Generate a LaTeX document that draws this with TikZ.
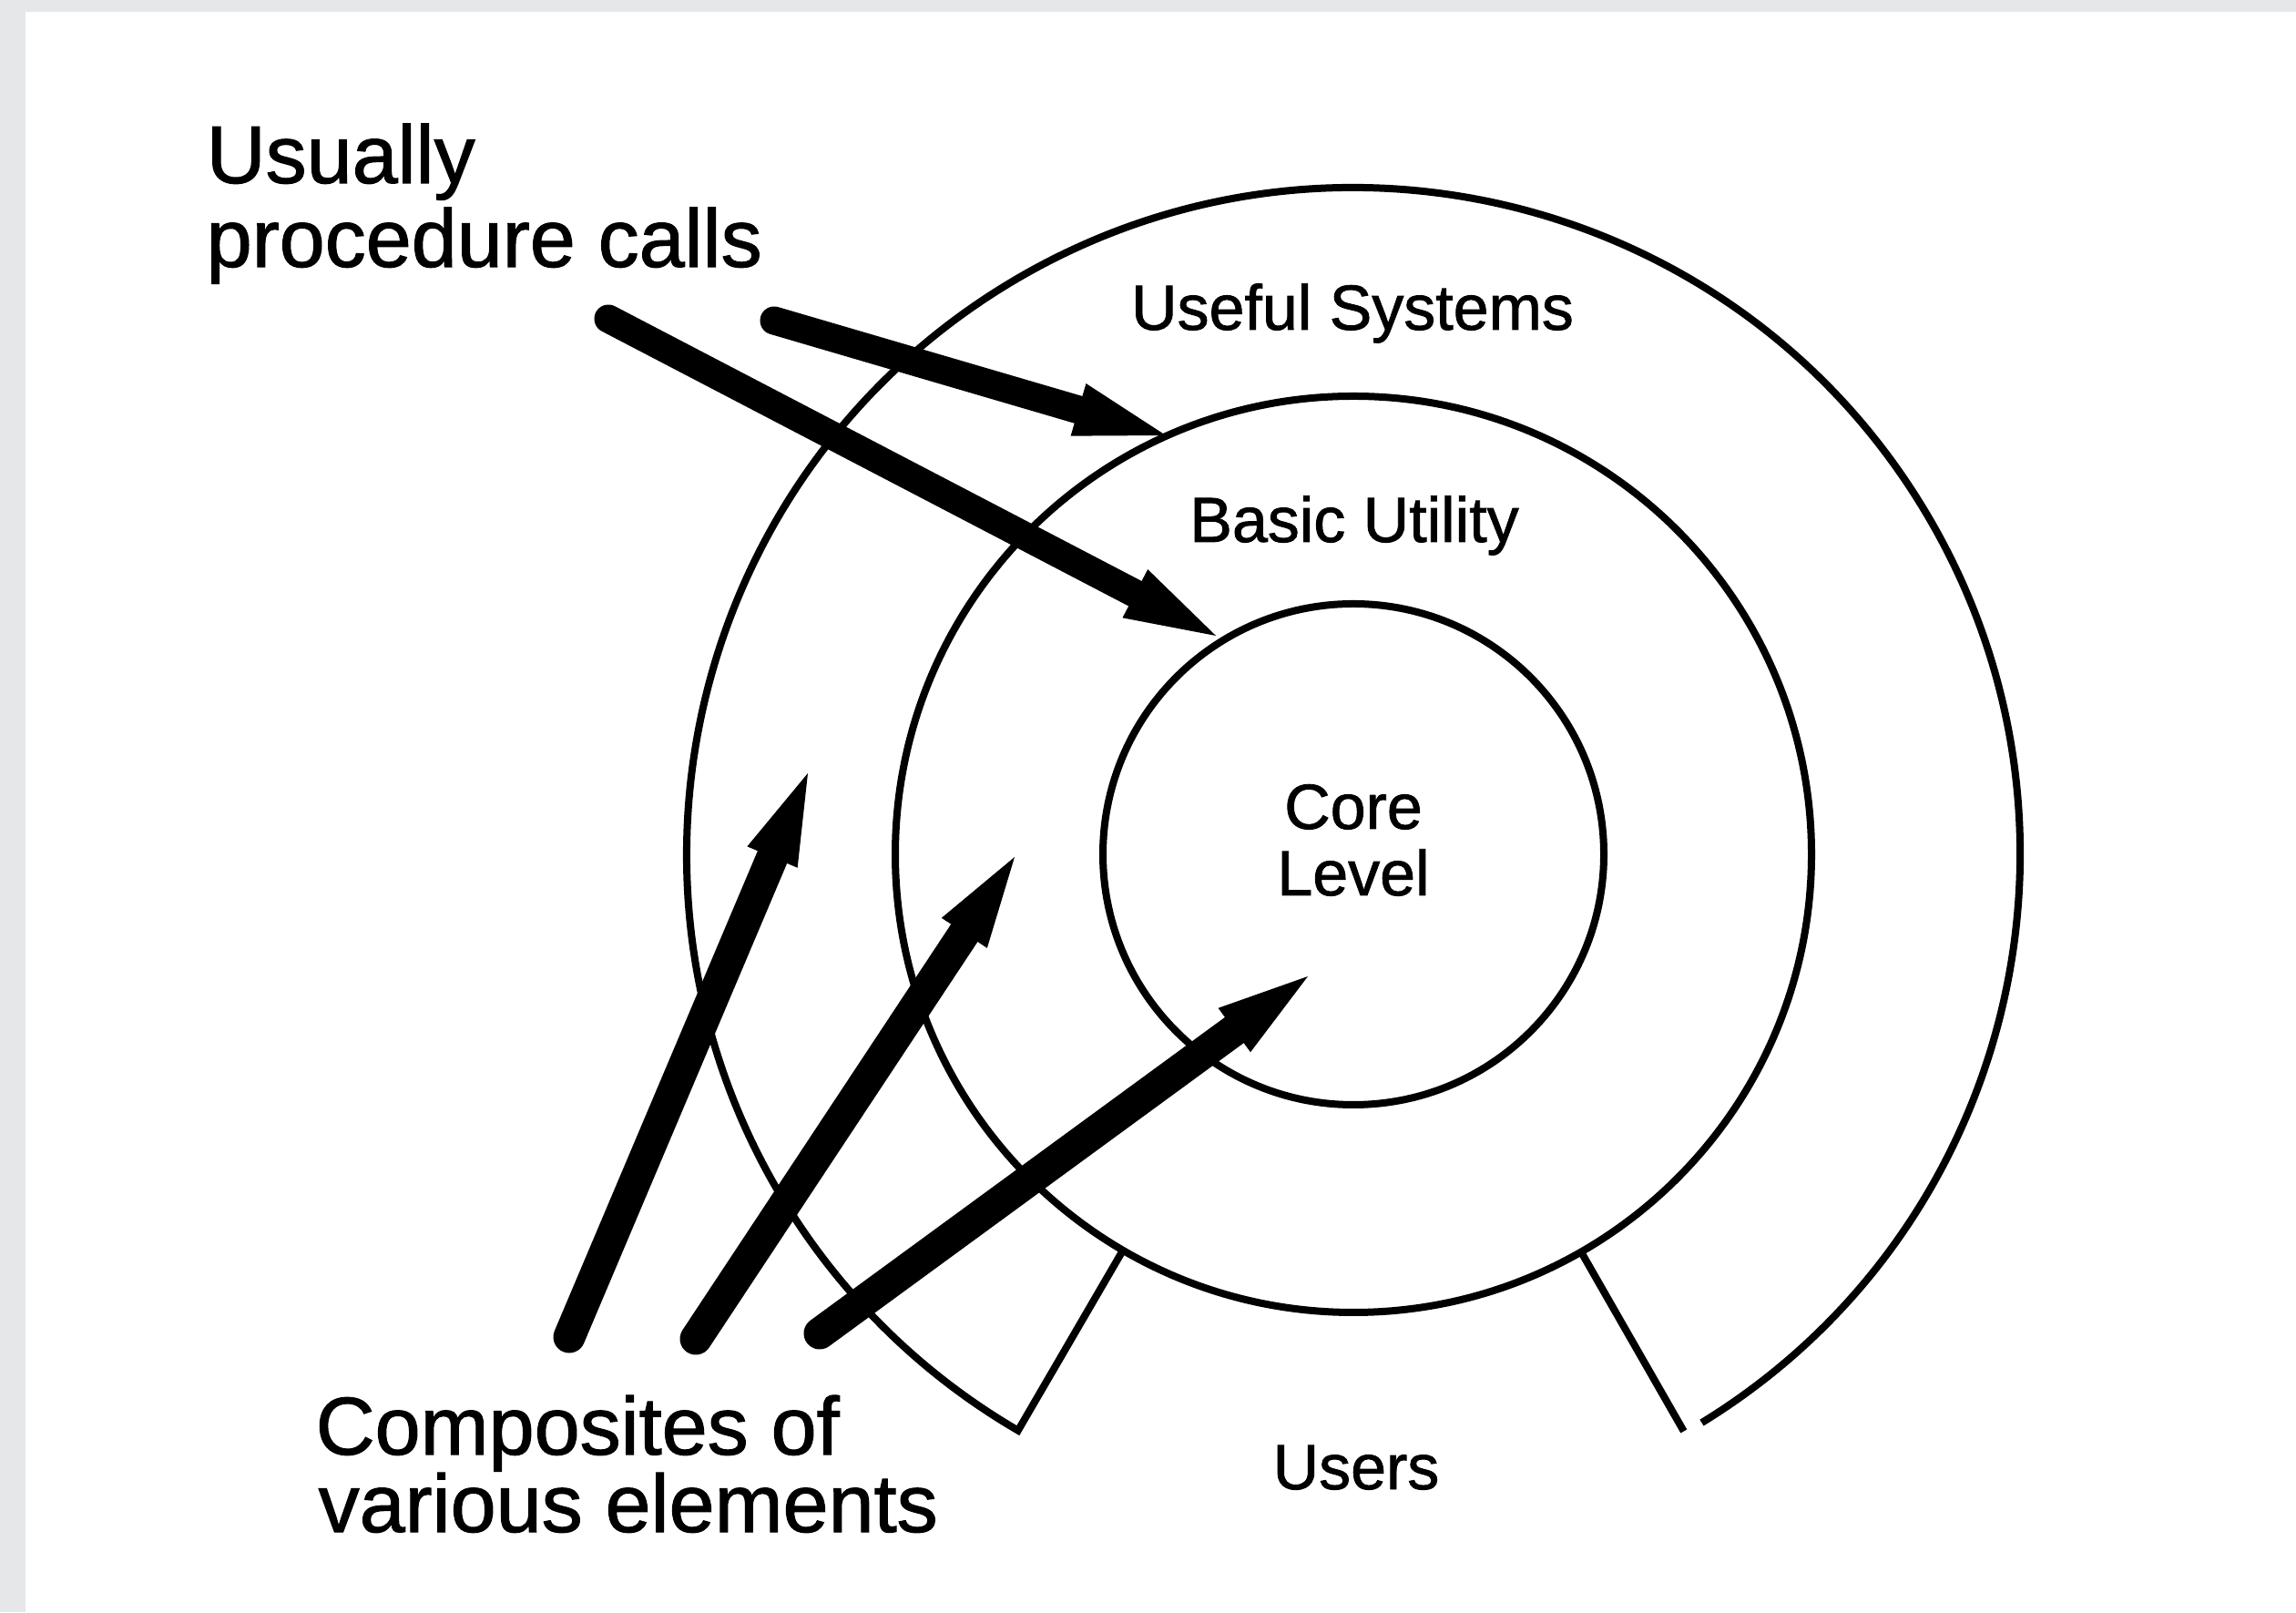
\documentclass[tikz,border=0pt]{standalone}
\usepackage{fontspec}
\setmainfont{Liberation Sans}[FakeBold=1.2]
\usetikzlibrary{calc}
\definecolor{framegray}{RGB}{229,231,233}

% fat arrow: #1 shaft style, #2 tail coordinate, #3 tip coordinate
\newcommand{\fatarrow}[3]{%
  \coordinate (#3-back) at ($(#3)!1.0cm!(#2)$);
  \draw[#1] (#2) -- ($(#3)!0.72cm!(#2)$);
  \fill (#3) -- ($(#3-back)!0.30cm!90:(#3)$) -- ($(#3-back)!0.30cm!-90:(#3)$) -- cycle;}

\tikzset{
  ring/.style={line width=0.08cm},
  bigtext/.style={font=\fontsize{25.6}{30}\selectfont, inner sep=0pt, anchor=base west},
  lvltext/.style={font=\fontsize{19.9}{24}\selectfont, inner sep=0pt, anchor=base},
  thinshaft/.style={line width=0.31cm, line cap=round},
  thickshaft/.style={line width=0.35cm, line cap=round},
}

\begin{document}
\begin{tikzpicture}
  \useasboundingbox (0,0) rectangle (25.21,17.70);
  \fill[framegray] (0,0) rectangle (25.21,17.70);
  \fill[white] (0.28,0) rectangle (25.21,17.57);

  % common centre of the levels
  \coordinate (C) at (14.86,8.32);

  % core and basic utility levels
  \draw[ring] (C) circle[radius=2.75];
  \draw[ring] (C) circle[radius=5.03];

  % useful systems level, open towards the users
  \draw[ring, line join=miter] ($(C)+(-58.5:7.32)$)
      arc[start angle=-58.5, end angle=239.8, radius=7.32]
      -- ($(C)+(239.8:5.03)$);
  \draw[ring] ($(C)+(-60.2:5.03)$) -- ($(C)+(-60.2:7.30)$);

  % level labels
  \node[lvltext] (useful) at (14.85,14.08) {Useful Systems};
  \node[lvltext] (basic)  at (14.87,11.75) {Basic Utility};
  \node[lvltext] (core1)  at (14.86,8.60)  {Core};
  \node[lvltext] (core2)  at (14.86,7.87)  {Level};
  \node[lvltext] (users)  at (14.89,1.35)  {Users};

  % annotations
  \node[bigtext] (calls1) at (2.26,15.69) {Usually};
  \node[bigtext] (calls2) at (2.26,14.77) {procedure calls};
  \node[bigtext] (comp1)  at (3.46,1.73)  {Composites of};
  \node[bigtext] (comp2)  at (3.49,0.88)  {various elements};

  % procedure-call arrows
  \coordinate (p1t) at (8.50,14.18);  \coordinate (p1h) at (12.80,12.92);
  \coordinate (p2t) at (6.68,14.20);  \coordinate (p2h) at (13.35,10.72);
  \fatarrow{thinshaft}{p1t}{p1h}
  \fatarrow{thinshaft}{p2t}{p2h}

  % composite arrows
  \coordinate (c1t) at (6.25,3.02);   \coordinate (c1h) at (8.87,9.21);
  \coordinate (c2t) at (7.64,3.00);   \coordinate (c2h) at (11.14,8.29);
  \coordinate (c3t) at (9.00,3.06);   \coordinate (c3h) at (14.36,6.98);
  \fatarrow{thickshaft}{c1t}{c1h}
  \fatarrow{thickshaft}{c2t}{c2h}
  \fatarrow{thickshaft}{c3t}{c3h}
\end{tikzpicture}
\end{document}
